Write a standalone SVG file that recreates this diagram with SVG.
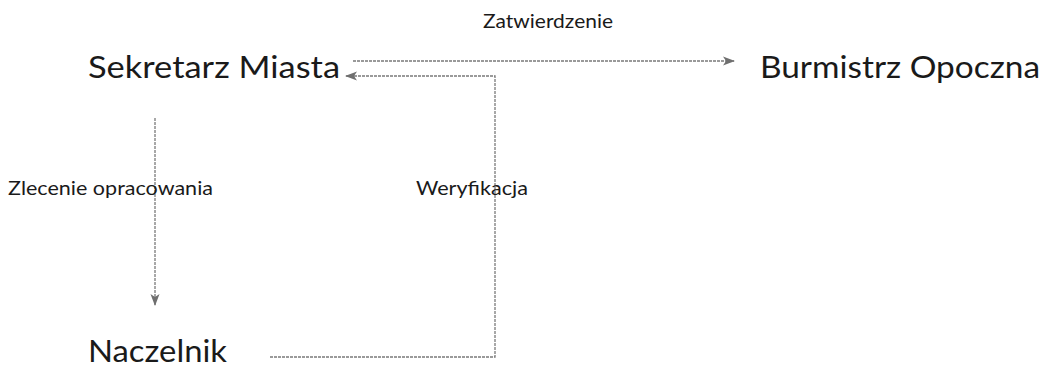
<svg xmlns="http://www.w3.org/2000/svg" width="1047" height="376" viewBox="0 0 1047 376">
  <style>
    .node { font-family: Lato, "Liberation Sans", sans-serif; font-size: 31px; fill: #1a1a1a; }
    .lbl { font-family: Lato, "Liberation Sans", sans-serif; font-size: 20px; fill: #1a1a1a; }
    .wire { fill: none; stroke: #7a7a7a; stroke-width: 1.3; stroke-dasharray: 3 1; }
  </style>
  <defs>
    <marker id="arr" viewBox="0 0 12 10" refX="11" refY="5" markerWidth="12" markerHeight="10" markerUnits="userSpaceOnUse" orient="auto">
      <path d="M0,0.5 L12,5 L0,9.5 L3,5 Z" fill="#6f6f6f"/>
    </marker>
  </defs>
  <rect width="1047" height="376" fill="#fff"/>

  <g id="connectors">
    <path class="wire" d="M353,61 H734" marker-end="url(#arr)"/>
    <path class="wire" d="M270,357 H495 V76 H346" marker-end="url(#arr)"/>
    <path class="wire" d="M155,118 V305" marker-end="url(#arr)"/>
  </g>

  <g id="labels">
    <text class="lbl" x="483" y="28" textLength="130" lengthAdjust="spacingAndGlyphs">Zatwierdzenie</text>
    <text class="lbl" x="8" y="195" textLength="205" lengthAdjust="spacingAndGlyphs">Zlecenie opracowania</text>
    <text class="lbl" x="416" y="195" textLength="112" lengthAdjust="spacingAndGlyphs">Weryfikacja</text>
  </g>

  <g id="sekretarz">
    <text class="node" x="88" y="78" textLength="252" lengthAdjust="spacingAndGlyphs">Sekretarz Miasta</text>
  </g>
  <g id="burmistrz">
    <text class="node" x="760" y="78" textLength="280" lengthAdjust="spacingAndGlyphs">Burmistrz Opoczna</text>
  </g>
  <g id="naczelnik">
    <text class="node" x="88" y="362" textLength="139" lengthAdjust="spacingAndGlyphs">Naczelnik</text>
  </g>
</svg>
